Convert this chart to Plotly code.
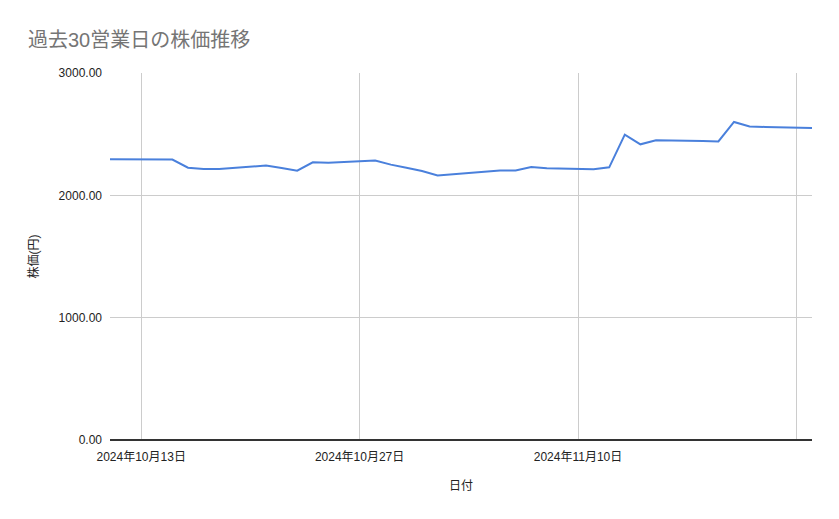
import plotly.graph_objects as go

dates = [
    "2024-10-11", "2024-10-15", "2024-10-16", "2024-10-17", "2024-10-18",
    "2024-10-21", "2024-10-22", "2024-10-23", "2024-10-24", "2024-10-25",
    "2024-10-28", "2024-10-29", "2024-10-30", "2024-10-31", "2024-11-01",
    "2024-11-05", "2024-11-06", "2024-11-07", "2024-11-08", "2024-11-11",
    "2024-11-12", "2024-11-13", "2024-11-14", "2024-11-15", "2024-11-18",
    "2024-11-19", "2024-11-20", "2024-11-21", "2024-11-22", "2024-11-25",
]
prices = [
    2294, 2292, 2226, 2216, 2215,
    2243, 2224, 2202, 2270, 2267,
    2284, 2251, 2226, 2199, 2163,
    2204, 2204, 2232, 2221, 2213,
    2229, 2496, 2417, 2450, 2445,
    2441, 2600, 2562, 2559, 2551,
]

x_tickvals = ["2024-10-13", "2024-10-27", "2024-11-10", "2024-11-24"]
x_ticktext = ["2024年10月13日", "2024年10月27日", "2024年11月10日", ""]
y_tickvals = [0, 1000, 2000, 3000]

title_text = "過去30営業日の株価推移"
x_title = "日付"
y_title = "株価(円)"

FONT = "Liberation Sans, Arial, Noto Sans CJK JP, sans-serif"

W, H = 831, 511

fig = go.Figure()
fig.add_trace(go.Scatter(
    x=dates, y=prices, mode="lines",
    line=dict(color="#4a80dc", width=2),
    showlegend=False,
))

fig.update_layout(
    width=W, height=H,
    margin=dict(l=102, r=27, t=65, b=79),
    paper_bgcolor="white", plot_bgcolor="white",
    font=dict(family=FONT, size=12, color="#222222"),
    title=dict(text=title_text, x=20 / W, xanchor="left", y=1 - 32 / H, yanchor="middle",
               font=dict(family=FONT, size=20, color="#757575")),
    xaxis=dict(
        type="date",
        range=["2024-10-11", "2024-11-25"],
        tickmode="array", tickvals=x_tickvals, ticktext=x_ticktext,
        showgrid=True, gridcolor="#cccccc", gridwidth=1,
        showline=False, zeroline=False, ticks="",
        ticklabelstandoff=8,
        tickfont=dict(family=FONT, size=12, color="#222222"),
        title=dict(text=x_title, font=dict(family=FONT, size=12, color="#222222"), standoff=18),
    ),
    yaxis=dict(
        range=[0, 3000],
        tickmode="array", tickvals=y_tickvals, tickformat=".2f",
        showgrid=True, gridcolor="#cccccc", gridwidth=1,
        zeroline=True, zerolinecolor="#333333", zerolinewidth=1.5,
        ticks="", ticklabelstandoff=7,
        tickfont=dict(family=FONT, size=12, color="#222222"),
        title=dict(text=y_title, font=dict(family=FONT, size=12, color="#222222"), standoff=17),
    ),
)

fig.write_html("out.html")
